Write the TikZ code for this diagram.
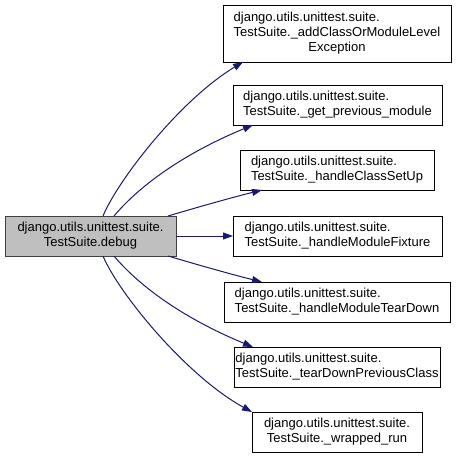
\documentclass[tikz,border=0pt]{standalone}
\usepackage{fontspec}
\setmainfont{Liberation Sans}
\usetikzlibrary{arrows.meta}
\definecolor{edgeblue}{HTML}{191970}
\definecolor{mainfill}{HTML}{BFBFBF}
\definecolor{mainborder}{HTML}{404040}
\newcommand{\twol}[2]{\begin{tabular}{@{}l@{}}#1\\\multicolumn{1}{@{}c@{}}{#2}\end{tabular}}
\newcommand{\threel}[3]{\begin{tabular}{@{}l@{}}#1\\#2\\\multicolumn{1}{@{}c@{}}{#3}\end{tabular}}
\tikzset{
  fnbox/.style={draw=black, line width=1pt, fill=white, inner sep=0pt, outer sep=0pt,
    font=\fontsize{13}{15}\selectfont},
  mainbox/.style={fnbox, fill=mainfill, draw=mainborder},
  calledge/.style={draw=edgeblue, line width=1pt, -{Triangle[length=10pt,width=7pt]}}
}
\begin{document}
\begin{tikzpicture}[x=1pt,y=-1pt]
\useasboundingbox (0,0) rectangle (456,458);
\node[mainbox, minimum width=171pt, minimum height=40pt] (main) at (90.5,236)
  {\twol{django.utils.unittest.suite.}{TestSuite.debug}};
\node[fnbox, minimum width=228pt, minimum height=57pt] (b1) at (337,33.5)
  {\threel{django.utils.unittest.suite.}{TestSuite.\_addClassOrModuleLevel}{Exception}};
\node[fnbox, minimum width=209pt, minimum height=40pt] (b2) at (337.5,105)
  {\twol{django.utils.unittest.suite.}{TestSuite.\_get\_previous\_module}};
\node[fnbox, minimum width=194pt, minimum height=40pt] (b3) at (337,170)
  {\twol{django.utils.unittest.suite.}{TestSuite.\_handleClassSetUp}};
\node[fnbox, minimum width=209pt, minimum height=40pt] (b4) at (337.5,236)
  {\twol{django.utils.unittest.suite.}{TestSuite.\_handleModuleFixture}};
\node[fnbox, minimum width=226pt, minimum height=40pt] (b5) at (337,302)
  {\twol{django.utils.unittest.suite.}{TestSuite.\_handleModuleTearDown}};
\node[fnbox, minimum width=206pt, minimum height=40pt] (b6) at (337,367)
  {\twol{django.utils.unittest.suite.}{TestSuite.\_tearDownPreviousClass}};
\node[fnbox, minimum width=170pt, minimum height=40pt] (b7) at (337,432)
  {\twol{django.utils.unittest.suite.}{TestSuite.\_wrapped\_run}};

\draw[calledge] ([xshift=12.5pt]main.north) .. controls (118,180) and (180,100) .. ([xshift=-94pt]b1.south);
\draw[calledge] ([xshift=23.5pt]main.north) .. controls (140,185) and (185,153) .. ([xshift=-84.5pt]b2.south);
\draw[calledge] ([xshift=77.5pt]main.north) .. controls (195,208) and (230,198) .. ([xshift=-75pt]b3.south);
\draw[calledge] (main.east) -- (b4.west);
\draw[calledge] ([xshift=77.5pt]main.south) .. controls (195,264) and (230,274) .. ([xshift=-75pt]b5.north);
\draw[calledge] ([xshift=23.5pt]main.south) .. controls (140,287) and (185,319) .. ([xshift=-84pt]b6.north);
\draw[calledge] ([xshift=12.5pt]main.south) .. controls (118,292) and (185,375) .. ([xshift=-85pt]b7.north);
\end{tikzpicture}
\end{document}
